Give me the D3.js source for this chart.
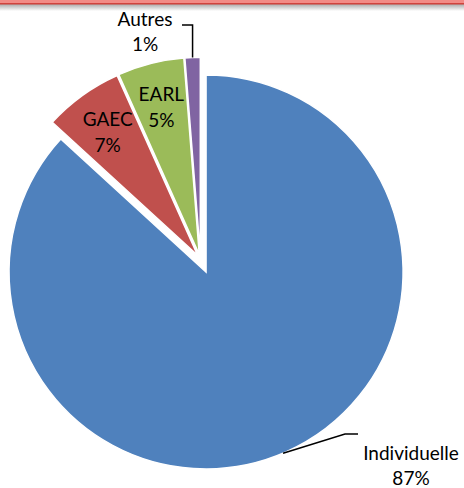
<!DOCTYPE html>
<html>
<head>
<meta charset="utf-8">
<script src="https://cdn.jsdelivr.net/npm/d3@7"></script>
<style>
  body { margin: 0; background: #fff; }
  svg { display: block; }
  text { font-family: Lato, "Open Sans", sans-serif; font-size: 19px; fill: #000; }
</style>
</head>
<body>
<svg id="chart" width="464" height="488"></svg>
<script>
// data
const categories = ["Individuelle", "GAEC", "EARL", "Autres"];
const shares = [86.8, 6.5, 5.45, 1.25];
const colors = ["#4F81BD", "#C0504D", "#9BBB59", "#8064A2"];

const width = 464, height = 488;
const cx = 200.5, cy = 259.3, radius = 197;
const explode = [13.8, 5, 5, 5];

const svg = d3.select("#chart");

// top banner line
const defs = svg.append("defs");
const grad = defs.append("linearGradient").attr("id", "shade")
  .attr("x1", 0).attr("y1", 0).attr("x2", 0).attr("y2", 1);
grad.append("stop").attr("offset", "0%").attr("stop-color", "#a8a8a8");
grad.append("stop").attr("offset", "100%").attr("stop-color", "#ffffff");
svg.append("rect").attr("x", 0).attr("y", 4).attr("width", width).attr("height", 7).attr("fill", "url(#shade)");
svg.append("rect").attr("x", 0).attr("y", 0).attr("width", width).attr("height", 3).attr("fill", "#f28b86");
svg.append("rect").attr("x", 0).attr("y", 3).attr("width", width).attr("height", 1.5).attr("fill", "#d0433d");

const pie = d3.pie().sort(null).value(d => d)(shares);
const arc = d3.arc().innerRadius(0).outerRadius(radius);

const g = svg.append("g").attr("transform", `translate(${cx},${cy})`);

const offset = (d, i) => {
  const mid = (d.startAngle + d.endAngle) / 2;
  return [Math.sin(mid) * explode[i], -Math.cos(mid) * explode[i]];
};

g.selectAll("path.slice")
  .data(pie)
  .join("path")
  .attr("class", "slice")
  .attr("transform", (d, i) => `translate(${offset(d, i)})`)
  .attr("d", arc)
  .attr("fill", (d, i) => colors[i])
  .attr("stroke", "#fff")
  .attr("stroke-width", 1.5);

const pct = v => Math.round(v) + "%";

// labels inside the small slices
[1, 2].forEach(i => {
  const d = pie[i];
  const [ox, oy] = offset(d, i);
  const mid = (d.startAngle + d.endAngle) / 2;
  const lx = Math.sin(mid) * radius * 0.78 + ox;
  const ly = -Math.cos(mid) * radius * 0.78 + oy;
  const t = g.append("text").attr("text-anchor", "middle");
  t.append("tspan").attr("x", lx).attr("y", ly - 5).text(categories[i]);
  t.append("tspan").attr("x", lx).attr("y", ly + 21).text(pct(shares[i]));
});

// outside labels with leader lines
function outerLabel(i, x, y) {
  const t = svg.append("text").attr("text-anchor", "middle");
  t.append("tspan").attr("x", x).attr("y", y).text(categories[i]);
  t.append("tspan").attr("x", x).attr("y", y + 25).text(pct(shares[i]));
}

// Autres
const pa = pie[3];
const [ax, ay] = offset(pa, 3);
const aEdge = (pa.startAngle + pa.endAngle) / 2;
const aTop = [cx + Math.sin(aEdge) * radius + ax, cy - Math.cos(aEdge) * radius + ay];
svg.append("path")
  .attr("d", d3.line()([[182, 25], [aTop[0], 25], aTop]))
  .attr("fill", "none").attr("stroke", "#000").attr("stroke-width", 1.5);
outerLabel(3, 145, 26);

// Individuelle
const pb = pie[0];
const [bx, by] = offset(pb, 0);
const bAng = 2.74;
const bEdge = [cx + Math.sin(bAng) * radius + bx, cy - Math.cos(bAng) * radius + by];
svg.append("path")
  .attr("d", d3.line()([[358, 434], [345, 434], bEdge]))
  .attr("fill", "none").attr("stroke", "#000").attr("stroke-width", 1.5);
outerLabel(0, 411, 460);
</script>
</body>
</html>
